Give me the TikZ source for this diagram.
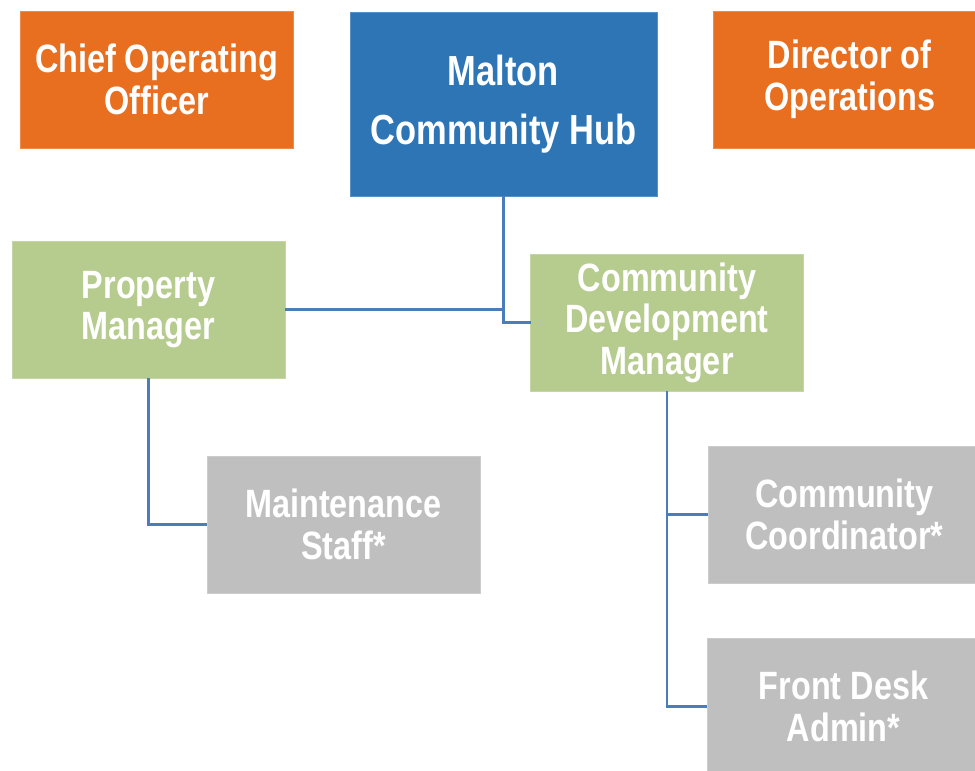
\documentclass[tikz,border=0pt]{standalone}
\usepackage{xcolor}
\usepackage{fontspec}
\newfontfamily\narrowsans[FakeStretch=0.82]{Liberation Sans}
\usetikzlibrary{positioning}

\definecolor{chiefOrange}{HTML}{E86E20}
\definecolor{hubBlue}{HTML}{2E75B6}
\definecolor{managerGreen}{HTML}{B6CB8E}
\definecolor{staffGray}{HTML}{BFBFBF}
\definecolor{linkBlue}{HTML}{4A7EBB}

\begin{document}
\begin{tikzpicture}[x=0.25mm,y=-0.25mm,
    elbow/.style={to path={|- (\tikztotarget)}}]
  \useasboundingbox (0,0) rectangle (975,770);
  \clip (0,0) rectangle (975,770);
        \begin{scope}[every node/.style={text=white,inner sep=0pt,outer sep=0pt,
            line width=0.3pt,align=center,
            minimum width=68.25mm,minimum height=34.25mm,
            font=\narrowsans\bfseries\fontsize{28.1pt}{29.5pt}\selectfont}]
          \node[fill=chiefOrange,draw=chiefOrange!80!white] (coo) at (156.5,79.5) {Chief Operating\\Officer};
          \node[fill=hubBlue,draw=hubBlue!80!white,minimum width=76.75mm,minimum height=46mm,
            font=\narrowsans\bfseries\fontsize{29.9pt}{42pt}\selectfont] (hub) at (503.5,104) {Malton\\Community Hub};
          \node[fill=chiefOrange,draw=chiefOrange!80!white] (dir) at (849.5,79.5) {Director of\\Operations};
          \node[fill=managerGreen,draw=managerGreen!80!white] (pm) at (148.5,309.5) {Property\\Manager};
          \node[fill=managerGreen,draw=managerGreen!80!white] (cdm) at (667,322.5) {Community\\Development\\Manager};
          \node[fill=staffGray,draw=staffGray!80!white] (maint) at (343.5,524.5) {Maintenance\\Staff*};
          \node[fill=staffGray,draw=staffGray!80!white] (coord) at (844.5,514.5) {Community\\Coordinator*};
          \node[fill=staffGray,draw=staffGray!80!white] (desk) at (843.5,706.5) {Front Desk\\Admin*};
        \end{scope}
        \begin{scope}[every edge/.style={draw=linkBlue,line width=2.1pt,elbow}]
          \path (hub.south) edge (pm.east);
          \path (hub.south) edge (cdm.west);
          \path (pm.south) edge (maint.west);
          \path (cdm.south) edge (coord.west);
          \path (cdm.south) edge (desk.west);
        \end{scope}
      \end{tikzpicture}
\end{document}
